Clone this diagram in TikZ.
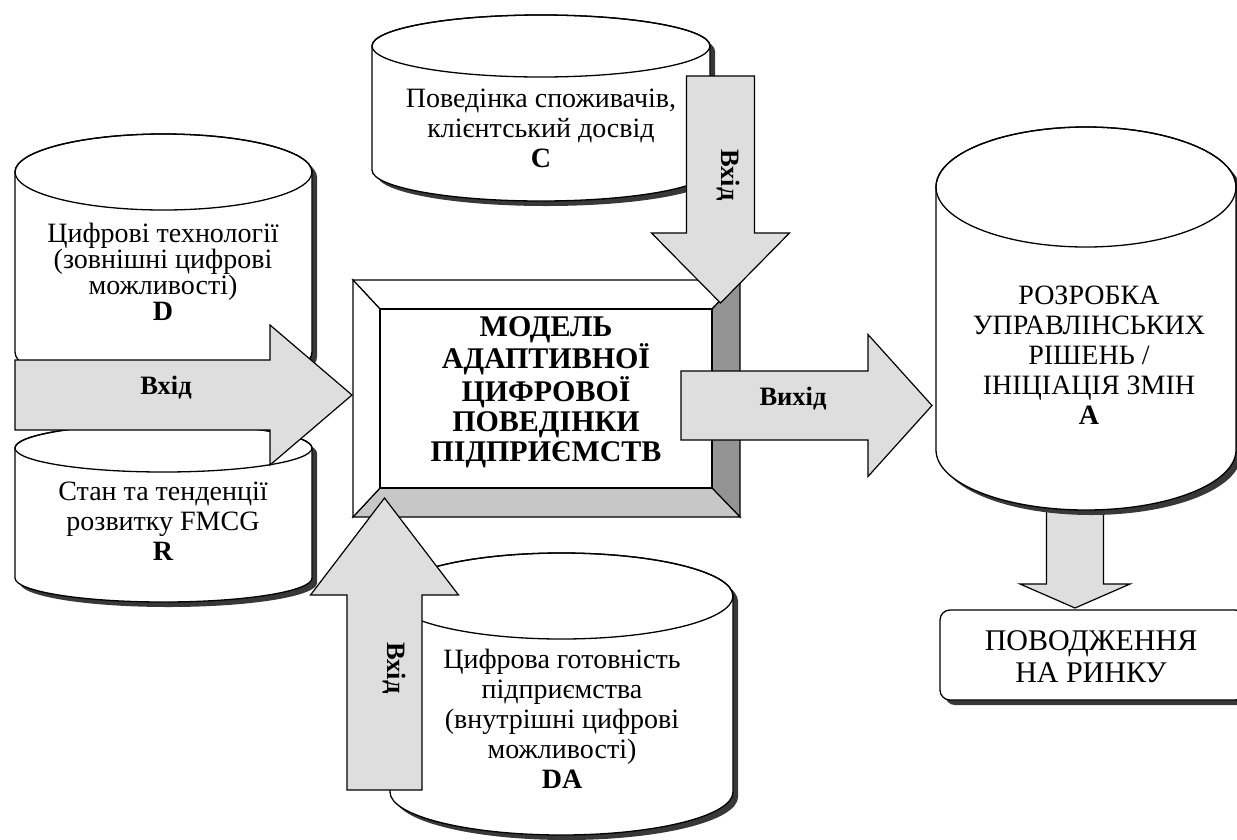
\documentclass[tikz,border=0pt]{standalone}
\usepackage{fontspec}
\setmainfont{Liberation Serif}
\usetikzlibrary{calc}

\tikzset{
  x=1pt, y=1pt,
  outline/.style={draw=black, line width=1.3pt, line join=round},
  cylshade/.style={fill=black!78},
  cylface/.style={outline, fill=white},
  arrowbody/.style={draw=black, line width=1.2pt, fill=black!13, line join=miter},
  plain/.style={align=center, inner sep=0pt, font=\fontsize{28}{30}\selectfont},
  arrowlabel/.style={inner sep=0pt, font=\fontsize{26.5}{28}\selectfont\bfseries},
  bevel/.style={draw=black, line width=1.2pt, line join=miter},
}

% cylinder: left x, right x, centre y of top end, centre y of bottom end, half-height of the ends
\newcommand\cylinder[5]{%
  \fill[cylshade, xshift=5pt, yshift=-5pt] (#1,-#3) -- (#1,-#4)
    arc[start angle=180, end angle=360, x radius={(#2-#1)/2}, y radius=#5]
    -- (#2,-#3) arc[start angle=0, end angle=180, x radius={(#2-#1)/2}, y radius=#5] -- cycle;
  \draw[cylface] (#1,-#3) -- (#1,-#4)
    arc[start angle=180, end angle=360, x radius={(#2-#1)/2}, y radius=#5]
    -- (#2,-#3) arc[start angle=0, end angle=180, x radius={(#2-#1)/2}, y radius=#5] -- cycle;
  \draw[outline] ({(#1+#2)/2},-#3) ellipse[x radius={(#2-#1)/2}, y radius=#5];
}

% block arrow: from, to, shaft half-width, head half-width, head length
\newcommand\blockarrow[5]{%
  \coordinate (neck) at ($(#2)!#5pt!(#1)$);
  \draw[arrowbody] ($(#1)!#3pt!90:(#2)$) -- ($(neck)!#3pt!-90:(#1)$)
    -- ($(neck)!#4pt!-90:(#1)$) -- (#2) -- ($(neck)!#4pt!90:(#1)$)
    -- ($(neck)!#3pt!90:(#1)$) -- ($(#1)!#3pt!-90:(#2)$) -- cycle;
}

\begin{document}
\begin{tikzpicture}
\useasboundingbox (0,0) rectangle (1237,-839);
\clip (0,0) rectangle (1237,-839);
\fill[white] (0,0) rectangle (1237,-839);

% arrow from A down to the market box (lies behind cylinder A)
\coordinate (Aout) at (1075,-500);
\coordinate (Pin) at (1075,-608);
\blockarrow{Aout}{Pin}{28.5}{55}{24}

% data stores
\cylinder{372}{710}{46}{170}{31}
\node[plain] (C) at (541,-128) {Поведінка споживачів,\\клієнтський досвід\\\textbf{C}};

\cylinder{15}{312}{172}{352}{38}
\node[plain, font=\fontsize{28}{26}\selectfont] (D) at (163,-272) {Цифрові технології\\(зовнішні цифрові\\можливості)\\\textbf{D}};

\cylinder{15}{312}{448}{578}{24}
\node[plain] (R) at (163,-521) {Стан та тенденції\\розвитку FMCG\\\textbf{R}};

\cylinder{390}{733}{596}{792}{43}
\node[plain] (DA) at (562,-719) {Цифрова готовність\\підприємства\\(внутрішні цифрові\\можливості)\\\textbf{DA}};

\cylinder{936}{1236}{187}{450}{60}
\node[plain] (A) at (1089,-355) {РОЗРОБКА\\УПРАВЛІНСЬКИХ\\РІШЕНЬ /\\ІНІЦІАЦІЯ ЗМІН\\\textbf{A}};

% market box with shadow
\fill[black!78, rounded corners=10pt] (945,-615) rectangle (1250,-705);
\draw[outline, fill=white, rounded corners=10pt] (940,-610) rectangle (1245,-700);
\node[plain, font=\fontsize{30}{32}\selectfont] (P) at (1091,-657) {ПОВОДЖЕННЯ\\НА РИНКУ};

% bevelled model box
\coordinate (O1) at (353,-280); \coordinate (O2) at (740,-280);
\coordinate (O3) at (740,-517); \coordinate (O4) at (353,-517);
\coordinate (I1) at (380,-309); \coordinate (I2) at (712,-309);
\coordinate (I3) at (712,-488); \coordinate (I4) at (380,-488);
\draw[bevel, fill=white] (O1) -- (O2) -- (I2) -- (I1) -- cycle;
\draw[bevel, fill=black!42] (O2) -- (O3) -- (I3) -- (I2) -- cycle;
\draw[bevel, fill=black!22] (O3) -- (O4) -- (I4) -- (I3) -- cycle;
\draw[bevel, fill=white] (O4) -- (O1) -- (I1) -- (I4) -- cycle;
\draw[bevel, fill=white] (I1) rectangle (I3);
\node[align=center, inner sep=0pt, font=\fontsize{30}{30}\selectfont\bfseries] (M) at (546,-392)
  {МОДЕЛЬ\\АДАПТИВНОЇ\\ЦИФРОВОЇ\\ПОВЕДІНКИ\\ПІДПРИЄМСТВ};

% inputs and output
\coordinate (DRout) at (15,-395);
\coordinate (Min) at (352,-395);
\blockarrow{DRout}{Min}{35}{70}{82}
\node[arrowlabel, anchor=base] (inL) at (166,-394) {Вхід};

\coordinate (Cout) at (720.5,-76);
\coordinate (Mtop) at (720.5,-303);
\blockarrow{Cout}{Mtop}{34}{69}{70}
\node[arrowlabel, rotate=-90, anchor=base] (inT) at (721,-175) {Вхід};

\coordinate (Mout) at (681,-405.5);
\coordinate (Ain) at (932,-405.5);
\blockarrow{Mout}{Ain}{34.5}{71}{64}
\node[arrowlabel, anchor=base] (outR) at (793,-405) {Вихід};

\coordinate (DAout) at (384.5,-790);
\coordinate (Mbot) at (384.5,-498);
\blockarrow{DAout}{Mbot}{37.5}{74}{97}
\node[arrowlabel, rotate=-90, anchor=base] (inB) at (387,-668) {Вхід};
\end{tikzpicture}
\end{document}
